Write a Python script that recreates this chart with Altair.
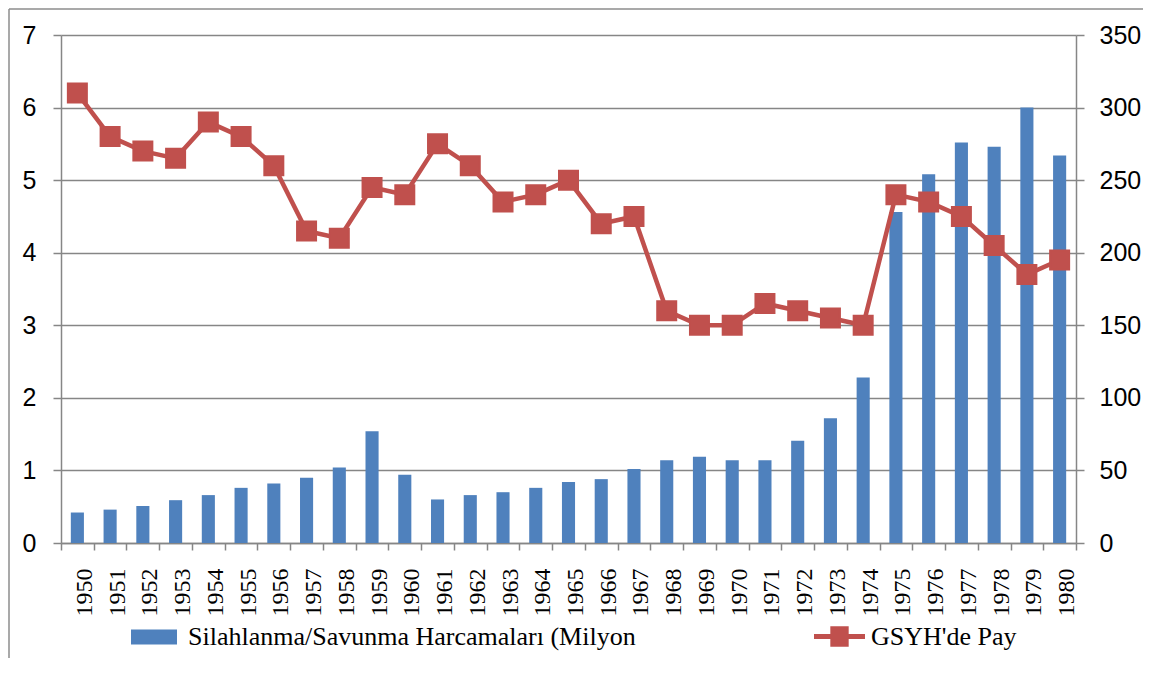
import altair as alt
import pandas as pd

years = ["1950", "1951", "1952", "1953", "1954", "1955", "1956", "1957", "1958", "1959",
         "1960", "1961", "1962", "1963", "1964", "1965", "1966", "1967", "1968", "1969",
         "1970", "1971", "1972", "1973", "1974", "1975", "1976", "1977", "1978", "1979", "1980"]
spending = [21, 23, 25.5, 29.5, 33, 38, 41, 45, 52, 77,
            47, 30, 33, 35, 38, 42, 44, 51, 57, 59.5,
            57, 57, 70.5, 86, 114, 228, 254, 276, 273, 300, 267]
share = [6.2, 5.6, 5.4, 5.3, 5.8, 5.6, 5.2, 4.3, 4.2, 4.9,
         4.8, 5.5, 5.2, 4.7, 4.8, 5.0, 4.4, 4.5, 3.2, 3.0,
         3.0, 3.3, 3.2, 3.1, 3.0, 4.8, 4.7, 4.5, 4.1, 3.7, 3.9]
left_ticks = [0, 1, 2, 3, 4, 5, 6, 7]
right_ticks = [0, 50, 100, 150, 200, 250, 300, 350]
bar_name = "Silahlanma/Savunma Harcamaları (Milyon"
line_name = "GSYH'de Pay"

BLUE = "#4F81BD"
RED = "#C0504D"
GREY = "#868686"

df = pd.DataFrame({"year": years, "spending": spending, "share": share,
                   "s1": bar_name, "s2": line_name})

W, H = 1015, 508

x_enc = alt.X("year:N", sort=years,
              scale=alt.Scale(paddingInner=0, paddingOuter=0),
              axis=alt.Axis(title=None, labelAngle=270, tickBand="extent",
                            tickSize=7, labelPadding=18, labelOffset=7,
                            labelFont="Liberation Serif", labelFontSize=24,
                            grid=False))

bar_path = "M-1,-0.33H1V0.33H-1Z"
line_path = "M-1,-0.1H-0.36V-0.4H0.36V-0.1H1V0.1H0.36V0.4H-0.36V0.1H-1Z"

bars = alt.Chart(df).mark_bar(width=alt.RelativeBandSize(0.4)).encode(
    x=x_enc,
    y=alt.Y("spending:Q", scale=alt.Scale(domain=[0, 350]),
            axis=alt.Axis(title=None, orient="right", values=right_ticks, grid=False,
                          tickSize=8, labelPadding=15,
                          labelFont="Liberation Sans", labelFontSize=25)),
    color=alt.Color("s1:N", scale=alt.Scale(domain=[bar_name], range=[BLUE]),
                    legend=alt.Legend(title=None, orient="none", legendX=70, legendY=579,
                                      symbolType=bar_path, symbolSize=2116,
                                      symbolStrokeWidth=0, labelOffset=11,
                                      labelFont="Liberation Serif", labelFontSize=26,
                                      labelColor="black", labelLimit=1000)),
)

line = alt.Chart(df).mark_line(
    strokeWidth=4.5,
    point=alt.OverlayMarkDef(shape="square", size=361, filled=True, color=RED, opacity=1),
).encode(
    x=x_enc,
    y=alt.Y("share:Q", scale=alt.Scale(domain=[0, 7]),
            axis=alt.Axis(title=None, orient="left", values=left_ticks, grid=True,
                          tickSize=8, labelPadding=17,
                          labelFont="Liberation Sans", labelFontSize=25)),
    stroke=alt.Stroke("s2:N", scale=alt.Scale(domain=[line_name], range=[RED]),
                      legend=alt.Legend(title=None, orient="none", legendX=753, legendY=576,
                                        symbolType=line_path, symbolSize=2601,
                                        symbolFillColor=RED, symbolStrokeWidth=0,
                                        labelOffset=6,
                                        labelFont="Liberation Serif", labelFontSize=26,
                                        labelColor="black", labelLimit=1000)),
)

frame = alt.Chart(alt.Data(values=[{"a": 1}]))
frame_left = frame.mark_rule(color="#8c8c8c", strokeWidth=1.5).encode(
    x=alt.value(-52), y=alt.value(-26), y2=alt.value(640))
frame_top = frame.mark_rule(color="#8c8c8c", strokeWidth=1.5).encode(
    x=alt.value(-52), x2=alt.value(1100), y=alt.value(-26))

chart = alt.layer(bars, line, frame_left, frame_top).resolve_scale(
    y="independent"
).properties(
    width=W, height=H,
    autosize=alt.AutoSizeParams(type="none"),
    padding={"left": 53, "top": 27, "right": 67, "bottom": 115},
).configure_view(strokeWidth=0).configure_axis(
    domainColor=GREY, tickColor=GREY, gridColor=GREY,
    domainWidth=1.5, tickWidth=1.5, gridWidth=1.5, labelColor="black",
)

chart.save("out.html", embed_options={"renderer": "svg", "actions": False})
